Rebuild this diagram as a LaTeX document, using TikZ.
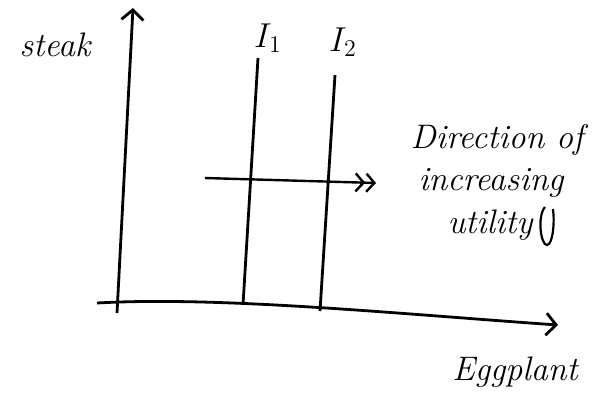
\documentclass[tikz,border=0pt]{standalone}
\usepackage{tikz}
\usetikzlibrary{arrows.meta,positioning}

\begin{document}
\begin{tikzpicture}[x=0.5pt, y=-0.5pt,
    axis/.style={draw, line width=1.4pt, -{Straight Barb[length=5pt,width=11pt]}},
    indiff/.style={draw, line width=1.4pt},
    hand/.style={font=\fontsize{17}{20}\selectfont\itshape, inner sep=0pt},
    moveright/.style={draw, line width=1.2pt, -{Straight Barb[length=4pt,width=9pt] Straight Barb[length=4pt,width=9pt]}}]
    \useasboundingbox (0,0) rectangle (595,403);

    % axes
    \coordinate (ybot) at (117,313);
    \coordinate (ytop) at (133,8);
    \coordinate (xleft) at (97,303);
    \coordinate (xright) at (558,325);
    \path [axis] (ybot) -- (ytop);
    \path [axis] (xleft) .. controls (220,296) and (400,314) .. (xright);

    % indifference curves
    \coordinate (i1top) at (258,58);
    \coordinate (i1bot) at (243,305);
    \coordinate (i2top) at (335,75);
    \coordinate (i2bot) at (320,311);
    \path [indiff] (i1top) -- (i1bot);
    \path [indiff] (i2top) -- (i2bot);

    % direction arrow
    \coordinate (dirstart) at (205,178);
    \coordinate (dirend) at (376,183);
    \path [moveright] (dirstart) -- (dirend);

    % labels
    \node [hand] (steak) at (55,45) {steak};
    \node [hand] (eggplant) at (515,372) {Eggplant};
    \node [hand] (labI1) at (268,38) {$I_1$};
    \node [hand] (labI2) at (343,42) {$I_2$};
    \node [hand] (dirtxt) at (497,140) {Direction of};
    \node [hand] (inctxt) at (491,183) {increasing};
    \node [hand] (utiltxt) at (490,225) {utility};
    \path [indiff, line width=1.1pt] (utiltxt.east) ++(12,-18)
        .. controls +(-8,10) and +(-6,0) .. ++(2,38)
        .. controls +(6,0) and +(2,12) .. ++(6,-36);
\end{tikzpicture}
\end{document}
